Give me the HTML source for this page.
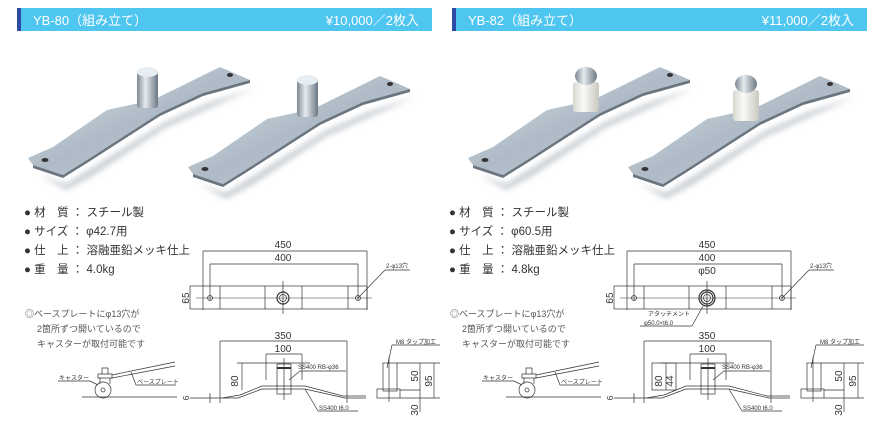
<!DOCTYPE html>
<html><head><meta charset="utf-8"><style>
body{margin:0;width:879px;height:432px;background:#fff;overflow:hidden;font-family:"Liberation Sans","Noto Sans CJK JP",sans-serif}
svg{position:absolute;left:0;top:0}
</style></head><body>
<svg width="879" height="432" viewBox="0 0 879 432" xmlns="http://www.w3.org/2000/svg" font-family="Liberation Sans, Noto Sans CJK JP, sans-serif">
<defs>
<linearGradient id="pl" x1="0" y1="0" x2="1" y2="1"><stop offset="0" stop-color="#d6dee5"/><stop offset="0.5" stop-color="#aebbc6"/><stop offset="1" stop-color="#c6d0d8"/></linearGradient>
<linearGradient id="pin" x1="0" y1="0" x2="1" y2="0"><stop offset="0" stop-color="#7d8894"/><stop offset="0.4" stop-color="#e6ebef"/><stop offset="1" stop-color="#6c7783"/></linearGradient>
<linearGradient id="wh" x1="0" y1="0" x2="1" y2="0"><stop offset="0" stop-color="#d8d8d2"/><stop offset="0.4" stop-color="#fafaf6"/><stop offset="1" stop-color="#c8c8c0"/></linearGradient>
<filter id="bl"><feGaussianBlur stdDeviation="3"/></filter>
<g id="plate">
<polygon points="40,175 66,184 92,168 165,122 208,103 255,88 210,108 165,128 92,176 66,190" fill="#c8cdd2" filter="url(#bl)"/>
<polygon points="28,158 53,147 107,110 153,100 220,67 250,80 203,93 160,113 87,160 63,175 33,165" fill="url(#pl)"/>
<polygon points="33,165 63,175 87,160 160,113 203,93 250,80 250,83 203,96 160,116 87,163 63,178 33,168" fill="#6a7580"/>
<ellipse cx="45" cy="160" rx="3.5" ry="2" fill="#333"/>
<ellipse cx="230" cy="75" rx="3" ry="2" fill="#333"/>
</g>
<g id="head">
<polygon points="0,0 415,0 415,23 0,23" fill="#4fc6f0"/>
<rect x="0" y="0" width="4" height="23" fill="#2d4aa8"/>
</g>
</defs>

<use href="#head" x="17" y="8"/>
<use href="#head" x="452" y="8"/>
<text x="33" y="25" font-size="13" fill="#fff">YB-80（組み立て）</text>
<text x="419" y="25" font-size="13" fill="#fff" text-anchor="end">¥10,000／2枚入</text>
<text x="468" y="25" font-size="13" fill="#fff">YB-82（組み立て）</text>
<text x="854" y="25" font-size="13" fill="#fff" text-anchor="end">¥11,000／2枚入</text>

<use href="#plate"/>
<rect x="137" y="72" width="21" height="36" rx="3" fill="url(#pin)"/><ellipse cx="147.5" cy="72" rx="10.5" ry="5" fill="#e8edf1"/>
<use href="#plate" x="160" y="9"/>
<rect x="297" y="80" width="21" height="37" rx="3" fill="url(#pin)"/><ellipse cx="307.5" cy="80" rx="10.5" ry="5" fill="#e8edf1"/>
<use href="#plate" x="440"/>
<rect x="573" y="82" width="26" height="30" rx="3" fill="url(#wh)"/>
<ellipse cx="586" cy="76" rx="11" ry="9" fill="url(#pin)"/>
<use href="#plate" x="600" y="9"/>
<rect x="733" y="90" width="26" height="31" rx="3" fill="url(#wh)"/>
<ellipse cx="746" cy="84" rx="11" ry="9" fill="url(#pin)"/>

<g font-size="11.5" fill="#333">
<text x="24" y="216">● 材　質 ： スチール製</text>
<text x="24" y="235">● サイズ ： φ42.7用</text>
<text x="24" y="254">● 仕　上 ： 溶融亜鉛メッキ仕上</text>
<text x="24" y="273">● 重　量 ： 4.0kg</text>
<text x="449" y="216">● 材　質 ： スチール製</text>
<text x="449" y="235">● サイズ ： φ60.5用</text>
<text x="449" y="254">● 仕　上 ： 溶融亜鉛メッキ仕上</text>
<text x="449" y="273">● 重　量 ： 4.8kg</text>
</g>
<g font-size="9" fill="#555">
<text x="25" y="317">◎ベースプレートにφ13穴が</text>
<text x="37" y="332">2箇所ずつ開いているので</text>
<text x="37" y="347">キャスターが取付可能です</text>
<text x="450" y="317">◎ベースプレートにφ13穴が</text>
<text x="462" y="332">2箇所ずつ開いているので</text>
<text x="462" y="347">キャスターが取付可能です</text>
</g>

<g id="draw" stroke="#333" stroke-width="0.7" fill="none">
<line x1="82" y1="397" x2="177" y2="397"/>
<circle cx="103" cy="390" r="8"/><circle cx="103" cy="390" r="2"/>
<path d="M98,374 h14 v4 h-14z M100,378 v6 M110,378 v6 M102,368 h6 v6 h-6z"/>
<path d="M112,375 L175,362 M112,378 L175,366"/>
<line x1="58" y1="381" x2="90" y2="381"/><line x1="90" y1="381" x2="98" y2="385"/>
<path d="M131,372 L136,385 L176,385"/>
<line x1="203" y1="251" x2="367" y2="251"/><line x1="203" y1="251" x2="203" y2="310"/><line x1="367" y1="251" x2="367" y2="310"/>
<line x1="210" y1="264" x2="358" y2="264"/><line x1="210" y1="264" x2="210" y2="300"/><line x1="358" y1="264" x2="358" y2="300"/>
<rect x="190" y="286" width="177" height="23"/>
<line x1="196" y1="298" x2="372" y2="298" stroke-width="0.5"/>
<line x1="220" y1="286" x2="220" y2="309"/><line x1="265" y1="286" x2="265" y2="309"/><line x1="302" y1="286" x2="302" y2="309"/><line x1="348" y1="286" x2="348" y2="309"/>
<circle cx="210" cy="298" r="2.5"/><circle cx="358" cy="298" r="2.5"/>
<circle cx="283" cy="298" r="6" stroke-width="1.2"/><circle cx="283" cy="298" r="3.5"/>
<line x1="283" y1="281" x2="283" y2="314"/>
<line x1="358" y1="298" x2="385" y2="270"/><line x1="385" y1="270" x2="410" y2="270"/>
<line x1="220" y1="341" x2="347" y2="341"/><line x1="220" y1="341" x2="220" y2="403"/><line x1="347" y1="341" x2="347" y2="403"/>
<line x1="266" y1="354" x2="302" y2="354"/><line x1="266" y1="354" x2="266" y2="380"/><line x1="302" y1="354" x2="302" y2="380"/>
<line x1="237" y1="363" x2="310" y2="363"/><line x1="242" y1="363" x2="242" y2="390"/>
<rect x="277" y="364" width="14" height="30"/><line x1="277" y1="368" x2="291" y2="368" stroke-width="2"/>
<line x1="284" y1="358" x2="284" y2="400"/>
<path d="M190,398 L238,398 L262,389 L305,389 L345,398 L366,398"/>
<path d="M222,398 L240,395 L262,386 L305,386 L343,396 L366,396"/>
<line x1="210" y1="393" x2="210" y2="403"/>
<line x1="289" y1="380" x2="300" y2="371"/><line x1="300" y1="371" x2="346" y2="371"/>
<line x1="305" y1="389" x2="318" y2="411"/><line x1="318" y1="411" x2="358" y2="411"/>
<rect x="383" y="363" width="14" height="28"/>
<rect x="377" y="389" width="23" height="9"/>
<line x1="389" y1="357" x2="389" y2="402"/>
<line x1="392" y1="345" x2="387" y2="368"/><line x1="392" y1="345" x2="440" y2="345"/>
<line x1="397" y1="363" x2="440" y2="363"/><line x1="400" y1="390" x2="420" y2="390"/><line x1="400" y1="398" x2="440" y2="398"/>
<line x1="420" y1="363" x2="420" y2="412"/><line x1="434" y1="363" x2="434" y2="398"/>
</g>
<use href="#draw" x="424"/>
<g stroke="#333" stroke-width="0.7" fill="none">
<circle cx="707" cy="298" r="8" stroke-width="1.2"/>
<line x1="703" y1="306" x2="692" y2="326"/><line x1="640" y1="326" x2="692" y2="326"/>
<rect x="652" y="363" width="24" height="27"/>
</g>
<g font-size="10" fill="#333">
<text x="283" y="248" text-anchor="middle">450</text><text x="283" y="261" text-anchor="middle">400</text>
<text x="283" y="339" text-anchor="middle">350</text><text x="283" y="352" text-anchor="middle">100</text>
<text x="707" y="248" text-anchor="middle">450</text><text x="707" y="261" text-anchor="middle">400</text>
<text x="707" y="339" text-anchor="middle">350</text><text x="707" y="352" text-anchor="middle">100</text>
<text x="707" y="274" text-anchor="middle">φ50</text>
<text transform="translate(189,298) rotate(-90)" text-anchor="middle">65</text>
<text transform="translate(613,298) rotate(-90)" text-anchor="middle">65</text>
<text transform="translate(238,381) rotate(-90)" text-anchor="middle">80</text>
<text transform="translate(662,381) rotate(-90)" text-anchor="middle">80</text>
<text transform="translate(673,381) rotate(-90)" text-anchor="middle">44</text>
<text transform="translate(418,376) rotate(-90)" text-anchor="middle">50</text>
<text transform="translate(432,381) rotate(-90)" text-anchor="middle">95</text>
<text transform="translate(418,410) rotate(-90)" text-anchor="middle">30</text>
<text transform="translate(842,376) rotate(-90)" text-anchor="middle">50</text>
<text transform="translate(856,381) rotate(-90)" text-anchor="middle">95</text>
<text transform="translate(842,410) rotate(-90)" text-anchor="middle">30</text>
<text transform="translate(189,398) rotate(-90)" text-anchor="middle" font-size="8">6</text>
<text transform="translate(613,398) rotate(-90)" text-anchor="middle" font-size="8">6</text>
</g>
<g font-size="6" fill="#333">
<text x="386" y="268">2-φ13穴</text><text x="810" y="268">2-φ13穴</text>
<text x="298" y="369">SS400 RB-φ36</text><text x="722" y="369">SS400 RB-φ36</text>
<text x="319" y="410">SS400 t6.0</text><text x="743" y="410">SS400 t6.0</text>
<text x="396" y="344">M8 タップ加工</text><text x="820" y="344">M8 タップ加工</text>
<text x="59" y="380">キャスター</text><text x="483" y="380">キャスター</text>
<text x="137" y="384">ベースプレート</text><text x="561" y="384">ベースプレート</text>
<text x="648" y="316">アタッチメント</text><text x="644" y="325">φ50.0×t6.0</text>
</g>
</svg>
</body></html>
